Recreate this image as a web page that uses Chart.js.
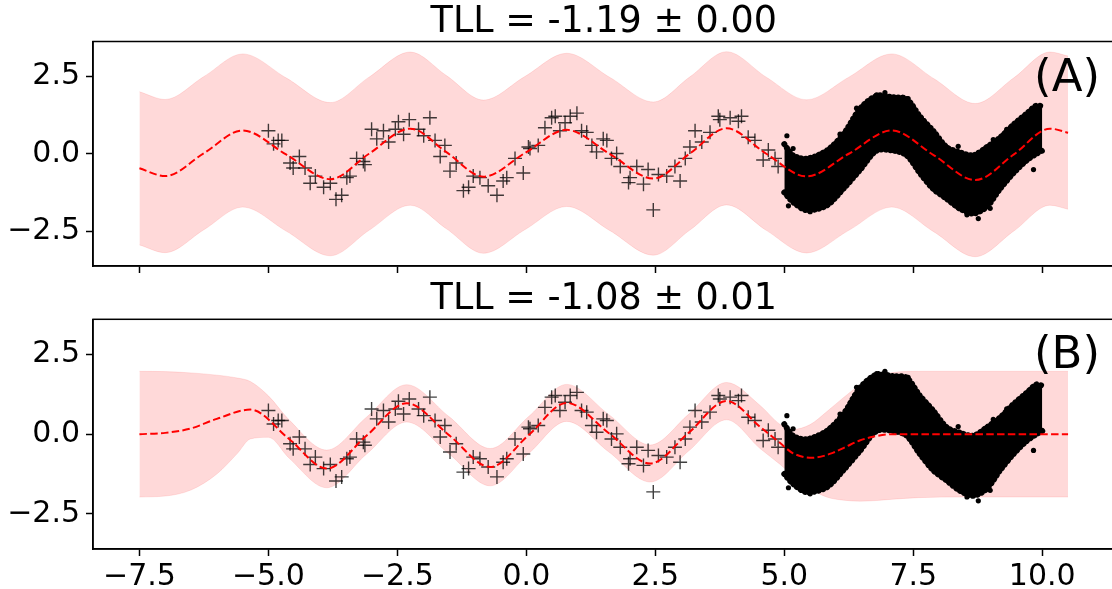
<!DOCTYPE html>
<html>
<head>
<meta charset="utf-8">
<script src="https://cdn.jsdelivr.net/npm/chart.js@4.4.1/dist/chart.umd.min.js"></script>
<style>
  html, body { margin: 0; padding: 0; background: #fff; overflow: hidden; }
  body { width: 1112px; height: 589px; position: relative; }
  canvas { position: absolute; left: 0; }
  #chartA { top: 0; }
  #chartB { top: 276px; }
</style>
</head>
<body>
<canvas id="chartA" width="1130" height="290"></canvas>
<canvas id="chartB" width="1130" height="313"></canvas>
<script>
// --- DATA ---
const xTicks = [-7.5, -5, -2.5, 0, 2.5, 5, 7.5, 10];
const xTickLabels = ['\u22127.5', '\u22125.0', '\u22122.5', '0.0', '2.5', '5.0', '7.5', '10.0'];
const yTicks = [-2.5, 0, 2.5];
const yTickLabels = ['\u22122.5', '0.0', '2.5'];

// training points (+ markers)
const trainX = [-5.0, -4.90, -4.81, -4.74, -4.58, -4.52, -4.40, -4.29, -4.19, -4.09, -3.93, -3.80, -3.69, -3.58, -3.48, -3.42, -3.29, -3.16, -3.13, -3.0,
  -2.90, -2.77, -2.67, -2.54, -2.48, -2.38, -2.27, -2.09, -1.99, -1.87, -1.77, -1.67, -1.58, -1.48, -1.36, -1.22, -1.12, -1.03, -0.90, -0.74,
  -0.57, -0.45, -0.38, -0.22, -0.06, 0.04, 0.07, 0.23, 0.36, 0.49, 0.56, 0.65, 0.75, 0.85, 0.98, 1.07, 1.17, 1.27, 1.36, 1.49,
  1.56, 1.65, 1.75, 1.82, 1.98, 2.01, 2.14, 2.27, 2.36, 2.46, 2.56, 2.72, 2.88, 2.98, 3.08, 3.17, 3.27, 3.40, 3.56, 3.72,
  3.75, 3.95, 4.11, 4.17, 4.30, 4.43, 4.59, 4.69, 4.82, 4.88];
const trainY = [0.74, 0.32, 0.43, 0.43, -0.30, -0.46, -0.09, -0.46, -0.95, -0.72, -1.08, -0.95, -1.47, -1.34, -0.77, -0.72, -0.15, -0.25, -0.35, 0.79,
  0.48, 0.74, 0.38, 0.79, 1.03, 0.63, 1.10, 0.79, 0.58, 1.16, 0.43, -0.09, 0.27, -0.56, -0.30, -1.19, -1.08, -0.72, -0.77, -1.03,
  -1.34, -0.88, -0.77, -0.15, -0.62, 0.22, 0.17, 0.27, 0.84, 1.16, 1.21, 0.74, 1.0, 1.21, 1.31, 0.74, 0.69, 0.27, 0.06, 0.48,
  0.43, -0.15, 0.01, -0.41, -0.93, -0.77, -0.41, -0.98, -0.51, -1.81, -0.67, -0.72, -0.41, -0.88, -0.15, 0.22, 0.74, 0.38, 0.69, 1.21,
  1.10, 1.16, 1.05, 1.21, 0.53, 0.43, -0.20, 0.12, -0.15, -0.41];

// test data cloud: envelope of the dense dots, plus a few stray dots
const cloudX = [5.0, 5.17, 5.43, 5.82, 6.14, 6.47, 6.79, 7.11, 7.37, 7.63, 7.89, 8.15, 8.4, 8.66, 8.92, 9.18, 9.44, 9.7, 9.89, 10.0];
const cloudTop = [0.31, -0.05, -0.16, 0.1, 0.62, 1.46, 1.87, 1.82, 1.77, 1.2, 0.73, 0.21, 0.05, -0.05, 0.21, 0.52, 0.94, 1.3, 1.56, 1.52];
const cloudBottom = [-1.25, -1.56, -1.82, -1.67, -1.14, -0.52, 0.1, 0.1, -0.05, -0.63, -1.14, -1.46, -1.77, -1.93, -1.72, -1.14, -0.63, -0.21, 0.0, 0.1];
const strayX = [5.05, 5.17, 5.08, 5.5, 5.72, 6.08, 6.4, 6.79, 6.95, 7.4, 8.37, 8.54, 8.76, 8.99, 9.05, 9.31, 9.83];
const strayY = [0.58, 0.17, -1.68, -1.87, -0.01, 0.63, 1.47, 1.9, 1.97, 1.78, 0.24, -1.97, -2.09, -1.76, 0.46, 0.79, -0.51];

// panel A: mean and band
const meanAX = [-7.5, -7.0, -6.25, -5.5, -4.65, -3.8, -3.05, -2.25, -1.55, -0.83, -0.03, 0.78, 1.62, 2.46, 3.17, 3.88, 4.65, 5.43, 6.25, 7.08, 7.9, 8.7, 9.45, 10.15, 10.5];
const meanA = [-0.47, -0.72, 0.02, 0.75, -0.03, -0.82, 0.0, 0.81, 0.05, -0.74, 0.02, 0.77, -0.01, -0.80, 0.01, 0.82, 0.0, -0.73, 0.0, 0.75, -0.05, -0.85, -0.02, 0.81, 0.68];
const upperA = [2.0, 1.75, 2.49, 3.22, 2.44, 1.65, 2.47, 3.28, 2.52, 1.73, 2.49, 3.24, 2.46, 1.67, 2.48, 3.29, 2.47, 1.74, 2.47, 3.22, 2.42, 1.62, 2.45, 3.28, 3.15];
const lowerA = [-2.94, -3.19, -2.45, -1.72, -2.5, -3.29, -2.47, -1.66, -2.42, -3.21, -2.45, -1.7, -2.48, -3.27, -2.46, -1.65, -2.47, -3.2, -2.47, -1.72, -2.52, -3.32, -2.49, -1.66, -1.79];

// panel B: mean and band
const meanBX = [-7.5, -7.0, -6.5, -6.0, -5.35, -4.6, -3.87, -3.1, -2.32, -1.5, -0.7, 0.05, 0.78, 1.6, 2.4, 3.15, 3.88, 4.53, 4.92, 5.17, 5.55, 5.95, 6.2, 6.46, 6.72, 7.1, 8.0, 9.0, 10.5];
const meanB = [0.0, 0.04, 0.18, 0.48, 0.77, -0.15, -1.08, -0.05, 0.97, -0.03, -1.03, -0.02, 0.98, 0.03, -0.92, 0.05, 1.04, 0.23, -0.28, -0.6, -0.74, -0.58, -0.39, -0.2, -0.08, 0.0, 0.0, 0.0, 0.0];
const bandBX = [-7.5, -7.0, -6.5, -6.0, -5.6, -5.35, -5.0, -4.6, -3.87, -3.1, -2.32, -1.5, -0.7, 0.05, 0.78, 1.6, 2.4, 3.15, 3.88, 4.53, 4.92, 5.17, 5.5, 5.82, 6.15, 6.47, 6.79, 7.1, 7.6, 8.5, 10.5];
const upperB = [1.97, 1.96, 1.92, 1.85, 1.76, 1.65, 1.2, 0.45, -0.5, 0.53, 1.55, 0.55, -0.45, 0.56, 1.56, 0.61, -0.34, 0.63, 1.62, 0.9, 0.3, 0.15, 0.3, 0.7, 1.15, 1.54, 1.8, 1.93, 1.97, 1.97, 1.97];
const lowerB = [-1.97, -1.94, -1.75, -1.25, -0.6, -0.15, -0.1, -0.75, -1.68, -0.63, 0.38, -0.62, -1.62, -0.6, 0.4, -0.56, -1.5, -0.52, 0.45, -0.45, -0.95, -1.3, -1.7, -1.97, -2.07, -2.1, -2.08, -2.04, -1.99, -1.97, -1.97];

const FONT = 'DejaVu Sans';

function pts(xs, ys) {
    return xs.map((x, i) => ({ x: x, y: ys[i] }));
}

// frame, title and panel tag
const frameText = {
    id: 'frameText',
    afterDraw(chart) {
        const ctx = chart.ctx;
        const a = chart.chartArea;
        const o = chart.options.plugins.frameText;
        ctx.save();
        ctx.strokeStyle = '#000';
        ctx.lineWidth = 1.5;
        ctx.strokeRect(a.left, a.top, a.right - a.left, a.bottom - a.top);
        ctx.fillStyle = '#000';
        ctx.textBaseline = 'alphabetic';
        ctx.font = '36.5px "' + FONT + '"';
        ctx.textAlign = 'center';
        ctx.fillText(o.title, (a.left + a.right) / 2, a.top - 10);
        ctx.font = '45px "' + FONT + '"';
        ctx.textAlign = 'right';
        ctx.fillText(o.tag, 1100, a.top + 49);
        ctx.restore();
    }
};

function makePanel(id, p) {
    const datasets = [
        { // mean
            data: pts(p.meanX, p.mean), borderColor: 'red', borderWidth: 2, borderDash: [7.5, 3.3],
            pointRadius: 0, cubicInterpolationMode: 'monotone', fill: false, order: 0
        },
        { // training points
            data: pts(trainX, trainY), showLine: false, pointStyle: 'cross', pointRadius: 7,
            borderColor: 'rgba(0,0,0,0.75)', pointBorderWidth: 1.4, order: 1
        },
        { // stray test dots
            data: pts(strayX, strayY), showLine: false, pointStyle: 'circle', pointRadius: 2.6,
            backgroundColor: '#000', borderColor: '#000', pointBorderWidth: 0, order: 2
        },
        { // cloud top (beaded edge like the dots)
            data: pts(cloudX, cloudTop), borderColor: '#000', borderWidth: 6, borderDash: [0.1, 4.5], borderCapStyle: 'round',
            backgroundColor: '#000', fill: 4, pointRadius: 0, tension: 0.3, order: 3
        },
        { // cloud bottom
            data: pts(cloudX, cloudBottom), borderColor: '#000', borderWidth: 6, borderDash: [0.1, 4.5], borderCapStyle: 'round',
            fill: false, pointRadius: 0, tension: 0.3, order: 4
        },
        { // band upper
            data: pts(p.bandX, p.upper), borderColor: 'rgba(255,0,0,0.1)', borderWidth: 1,
            backgroundColor: 'rgba(255,0,0,0.15)', fill: 6, pointRadius: 0, cubicInterpolationMode: 'monotone', order: 5
        },
        { // band lower
            data: pts(p.bandX, p.lower), borderColor: 'rgba(255,0,0,0.1)', borderWidth: 1,
            fill: false, pointRadius: 0, cubicInterpolationMode: 'monotone', order: 6
        }
    ];

    return new Chart(document.getElementById(id).getContext('2d'), {
        type: 'line',
        data: { datasets: datasets },
        plugins: [frameText],
        options: {
            responsive: false,
            animation: false,
            events: [],
            layout: { padding: { left: 0, right: 15.5, top: p.padTop, bottom: 0 } },
            plugins: {
                legend: { display: false },
                tooltip: { enabled: false },
                frameText: { title: p.title, tag: p.tag }
            },
            scales: {
                x: {
                    type: 'linear', min: -8.4, max: 11.4,
                    afterBuildTicks: s => { s.ticks = xTicks.map(v => ({ value: v })); },
                    afterFit: s => { s.height = p.xAxisH; },
                    grid: { drawOnChartArea: false, drawTicks: true, tickLength: 7, tickWidth: 1.5, tickColor: '#000' },
                    border: { display: true, color: '#000', width: 1.5 },
                    ticks: {
                        display: p.xLabels, color: '#000', padding: 3, maxRotation: 0, autoSkip: false,
                        font: { family: FONT, size: 30 },
                        callback: (v, i) => xTickLabels[i]
                    }
                },
                y: {
                    type: 'linear', min: p.yMin, max: p.yMax,
                    afterBuildTicks: s => { s.ticks = yTicks.map(v => ({ value: v })); },
                    afterFit: s => { s.width = 93; },
                    grid: { drawOnChartArea: false, drawTicks: true, tickLength: 7, tickWidth: 1.5, tickColor: '#000' },
                    border: { display: true, color: '#000', width: 1.5 },
                    ticks: {
                        color: '#000', padding: 6, autoSkip: false,
                        font: { family: FONT, size: 30 },
                        callback: (v, i) => yTickLabels[i]
                    }
                }
            }
        }
    });
}

makePanel('chartA', {
    title: 'TLL = -1.19 \u00b1 0.00', tag: '(A)',
    meanX: meanAX, mean: meanA, bandX: meanAX, upper: upperA, lower: lowerA,
    padTop: 41.5, xAxisH: 17.3, xLabels: false, yMin: -3.62, yMax: 3.62
});

makePanel('chartB', {
    title: 'TLL = -1.08 \u00b1 0.01', tag: '(B)',
    meanX: meanBX, mean: meanB, bandX: bandBX, upper: upperB, lower: lowerB,
    padTop: 43.3, xAxisH: 40, xLabels: true, yMin: -3.6, yMax: 3.6
});
</script>
</body>
</html>
